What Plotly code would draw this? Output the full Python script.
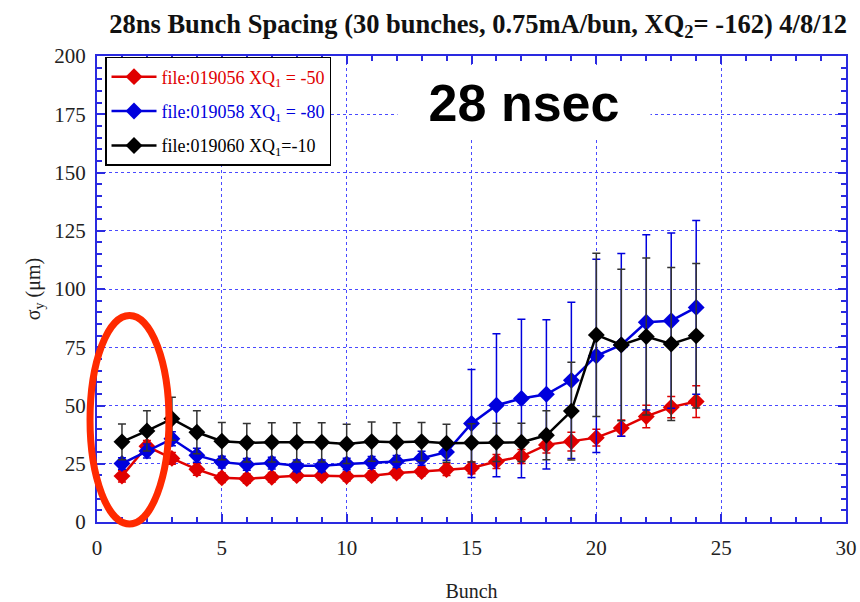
import plotly.graph_objects as go

bunch = list(range(1, 25))

red_vals = [19.7, 32.5, 27.3, 22.6, 19.0, 18.6, 19.2, 19.9, 19.9, 19.6, 19.9, 21.0,
            21.7, 22.5, 23.2, 26.0, 28.1, 33.1, 34.5, 36.2, 40.3, 45.3, 49.3, 51.7]
red_err = [2.5, 2.5, 2.5, 2.5, 2, 2, 2, 2, 2, 2, 2, 2,
           2, 2.5, 2.5, 3, 3, 3.5, 4, 3.6, 3.5, 4.8, 4.6, 6.8]

blue_vals = [25.1, 30.5, 35.7, 28.6, 25.7, 24.7, 25.3, 24.1, 24.1, 24.9, 25.6, 26.0,
             27.4, 30.0, 42.3, 50.1, 53.0, 54.8, 60.8, 71.3, 76.0, 85.7, 86.4, 92.1]
blue_err = [2.5, 3, 3, 3, 2.5, 2.5, 2.5, 2.5, 2.5, 2.5, 2.5, 2.5,
            3, 3.5, 23.2, 30.7, 34, 32, 33.5, 41.5, 39.2, 37.6, 37.6, 37.3]

black_vals = [34.4, 39.1, 44.3, 38.5, 34.7, 34.0, 34.2, 34.2, 34.2, 33.5, 34.5, 34.2,
              34.5, 33.8, 34.0, 34.2, 34.2, 37.2, 47.6, 80.3, 76.0, 79.6, 76.4, 79.9]
black_err = [7.7, 8.6, 9.2, 9.2, 8, 8.3, 8.4, 8.4, 8.4, 8.4, 8.4, 8.4,
             8.2, 8.2, 8.2, 8.2, 8.2, 10.5, 21, 35, 32.5, 33.7, 32.8, 31]

series_names = ["file:019056 XQ<sub>1</sub> = -50",
                "file:019058 XQ<sub>1</sub> = -80",
                "file:019060 XQ<sub>1</sub>=-10"]
series_colors = ["#e00000", "#0000dd", "#000000"]
series_vals = [red_vals, blue_vals, black_vals]
series_errs = [red_err, blue_err, black_err]

title_text = "<b>28ns Bunch Spacing (30 bunches, 0.75mA/bun, XQ<sub>2</sub>= -162) 4/8/12</b>"
x_ticks = [0, 5, 10, 15, 20, 25, 30]
y_ticks = [0, 25, 50, 75, 100, 125, 150, 175, 200]

SERIF = "Liberation Serif, Times New Roman, serif"
AX = "#2a2ae0"
GRID = "#4a4aff"

fig = go.Figure()
for i, (name, col, vals, errs) in enumerate(zip(series_names, series_colors, series_vals, series_errs)):
    fig.add_trace(go.Scatter(
        x=bunch, y=vals, mode="lines+markers",
        name=f"<span style='color:{col}'>{name}</span>",
        legendgroup=f"g{i}",
        line=dict(color=col, width=2.5),
        marker=dict(symbol="diamond", size=13, color=col),
        error_y=dict(type="data", array=errs, visible=True,
                     color=col if col != "#000000" else "#333333",
                     thickness=1.5, width=4),
    ))

axis_common = dict(
    showline=True, linecolor=AX, linewidth=2, mirror="ticks",
    ticks="inside", tickcolor=AX, ticklen=8, tickwidth=1.5,
    showgrid=True, gridcolor=GRID, gridwidth=1, griddash="dot",
    zeroline=False, automargin=False,
    tickfont=dict(family=SERIF, size=21, color="#222222"),
)

fig.update_xaxes(range=[0, 30], tickvals=x_ticks,
                 minor=dict(dtick=1, ticks="inside", ticklen=5, tickcolor=AX, showgrid=False),
                 title=dict(text="Bunch", font=dict(family=SERIF, size=20, color="#222222"), standoff=30),
                 ticklabelstandoff=6,
                 **axis_common)
fig.update_yaxes(range=[0, 200], tickvals=y_ticks,
                 minor=dict(dtick=5, ticks="inside", ticklen=5, tickcolor=AX, showgrid=False),
                 title=dict(text="σ<sub>y</sub> (μm)", font=dict(family=SERIF, size=20, color="#222222"), standoff=8),
                 ticklabelstandoff=5,
                 **axis_common)

fig.add_shape(type="circle", xref="paper", yref="paper",
              x0=-0.0093, x1=0.0961, y0=-0.0043, y1=0.443,
              line=dict(color="#ff2a00", width=7))

fig.add_annotation(text="<b>28 nsec</b>", xref="paper", yref="paper",
                   x=0.57, y=0.90, xanchor="center", yanchor="middle",
                   showarrow=False, bgcolor="white", width=250, height=70,
                   font=dict(family="Liberation Sans, Arial, sans-serif", size=52, color="black"))

fig.update_layout(
    width=860, height=602,
    margin=dict(l=97, r=14, t=56, b=80),
    paper_bgcolor="white", plot_bgcolor="white",
    title=dict(text=title_text, x=0.556, xref="container", xanchor="center",
               y=0.961, yref="container", yanchor="middle",
               font=dict(family=SERIF, size=26.5, color="#111111")),
    legend=dict(x=0.0107, y=0.998, xanchor="left", yanchor="top",
                bgcolor="white", bordercolor="black", borderwidth=1.5,
                font=dict(family=SERIF, size=18, color="#111111"),
                itemwidth=45, tracegroupgap=8),
    showlegend=True,
)

# remove the default page margin so the figure fills the window exactly
fig.write_html("out.html", config={"displayModeBar": False},
               post_script="document.body.style.margin='0';")
